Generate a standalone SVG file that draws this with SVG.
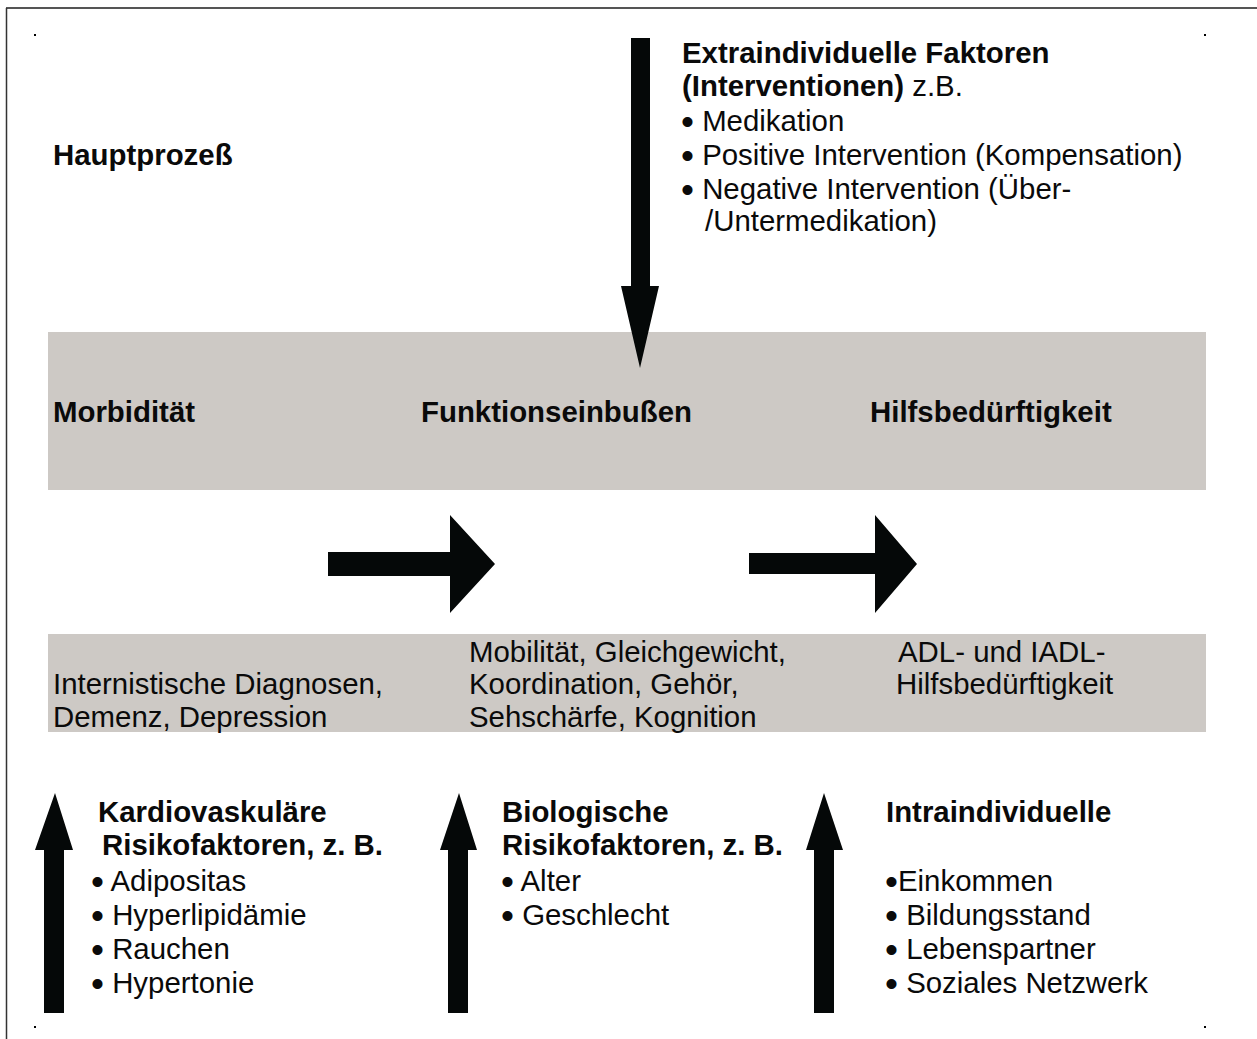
<svg xmlns="http://www.w3.org/2000/svg" width="1257" height="1039" viewBox="0 0 1257 1039">
<style>
text{font-family:"Liberation Sans",Arial,sans-serif;font-size:29.4px;fill:#0a0a0a}
.b{font-weight:bold}
.bu{font-size:37px}
.band{fill:#cdc9c5}
.arr{fill:#050808}
.dot{fill:#000}
</style>
<rect width="1257" height="1039" fill="#fff"/>
<g id="frame">
<line x1="6" y1="8" x2="1257" y2="8" stroke="#555" stroke-width="2"/>
<line x1="6.5" y1="8" x2="6.5" y2="1039" stroke="#333" stroke-width="1.5"/>
<rect class="dot" x="34" y="34" width="2" height="2"/>
<rect class="dot" x="1204" y="34" width="2" height="2"/>
<rect class="dot" x="34" y="1026" width="2" height="2"/>
<rect class="dot" x="1204" y="1026" width="2" height="2"/>
</g>
<g id="bands">
<rect class="band" x="48" y="332" width="1158" height="158"/>
<rect class="band" x="48" y="634" width="1158" height="98"/>
</g>
<g id="connectors">
<polygon class="arr" points="631,38 650,38 650,286 659,286 640,368 621,286 631,286"/>
<polygon class="arr" points="328,552 450,552 450,515 495,564 450,613 450,576 328,576"/>
<polygon class="arr" points="749,553 875,553 875,515 917,564 875,613 875,574 749,574"/>
<polygon class="arr" points="44,1013 64,1013 64,850 73,850 55,793 35,850 44,850"/>
<polygon class="arr" points="448,1013 468,1013 468,850 477,850 459,793 440,850 448,850"/>
<polygon class="arr" points="814,1013 834,1013 834,850 843,850 824,793 806,850 814,850"/>
</g>
<g id="hauptprozess">
<text class="b" x="53" y="165">Hauptprozeß</text>
</g>
<g id="extraindividuell">
<text class="b" x="682" y="63">Extraindividuelle Faktoren</text>
<text x="682" y="96"><tspan class="b">(Interventionen)</tspan> z.B.</text>
<text x="681" y="131"><tspan class="bu" dy="2.5">•</tspan><tspan dy="-2.5"> Medikation</tspan></text>
<text x="681" y="165"><tspan class="bu" dy="2.5">•</tspan><tspan dy="-2.5"> Positive Intervention (Kompensation)</tspan></text>
<text x="681" y="199"><tspan class="bu" dy="2.5">•</tspan><tspan dy="-2.5"> Negative Intervention (Über-</tspan></text>
<text x="705" y="231">/Untermedikation)</text>
</g>
<g id="morbiditaet">
<text class="b" x="53" y="422">Morbidität</text>
<text x="53" y="694">Internistische Diagnosen,</text>
<text x="53" y="727">Demenz, Depression</text>
</g>
<g id="funktionseinbussen">
<text class="b" x="421" y="422">Funktionseinbußen</text>
<text x="469" y="662">Mobilität, Gleichgewicht,</text>
<text x="469" y="694">Koordination, Gehör,</text>
<text x="469" y="727">Sehschärfe, Kognition</text>
</g>
<g id="hilfsbeduerftigkeit">
<text class="b" x="870" y="422">Hilfsbedürftigkeit</text>
<text x="898" y="662">ADL- und IADL-</text>
<text x="896" y="694">Hilfsbedürftigkeit</text>
</g>
<g id="kardiovaskulaer">
<text class="b" x="98" y="822">Kardiovaskuläre</text>
<text class="b" x="102" y="855">Risikofaktoren, z. B.</text>
<text x="91" y="891"><tspan class="bu" dy="2.5">•</tspan><tspan dy="-2.5"> Adipositas</tspan></text>
<text x="91" y="925"><tspan class="bu" dy="2.5">•</tspan><tspan dy="-2.5"> Hyperlipidämie</tspan></text>
<text x="91" y="959"><tspan class="bu" dy="2.5">•</tspan><tspan dy="-2.5"> Rauchen</tspan></text>
<text x="91" y="993"><tspan class="bu" dy="2.5">•</tspan><tspan dy="-2.5"> Hypertonie</tspan></text>
</g>
<g id="biologisch">
<text class="b" x="502" y="822">Biologische</text>
<text class="b" x="502" y="855">Risikofaktoren, z. B.</text>
<text x="501" y="891"><tspan class="bu" dy="2.5">•</tspan><tspan dy="-2.5"> Alter</tspan></text>
<text x="501" y="925"><tspan class="bu" dy="2.5">•</tspan><tspan dy="-2.5"> Geschlecht</tspan></text>
</g>
<g id="intraindividuell">
<text class="b" x="886" y="822">Intraindividuelle</text>
<text x="885" y="891"><tspan class="bu" dy="2.5">•</tspan><tspan dy="-2.5">Einkommen</tspan></text>
<text x="885" y="925"><tspan class="bu" dy="2.5">•</tspan><tspan dy="-2.5"> Bildungsstand</tspan></text>
<text x="885" y="959"><tspan class="bu" dy="2.5">•</tspan><tspan dy="-2.5"> Lebenspartner</tspan></text>
<text x="885" y="993"><tspan class="bu" dy="2.5">•</tspan><tspan dy="-2.5"> Soziales Netzwerk</tspan></text>
</g>
</svg>
